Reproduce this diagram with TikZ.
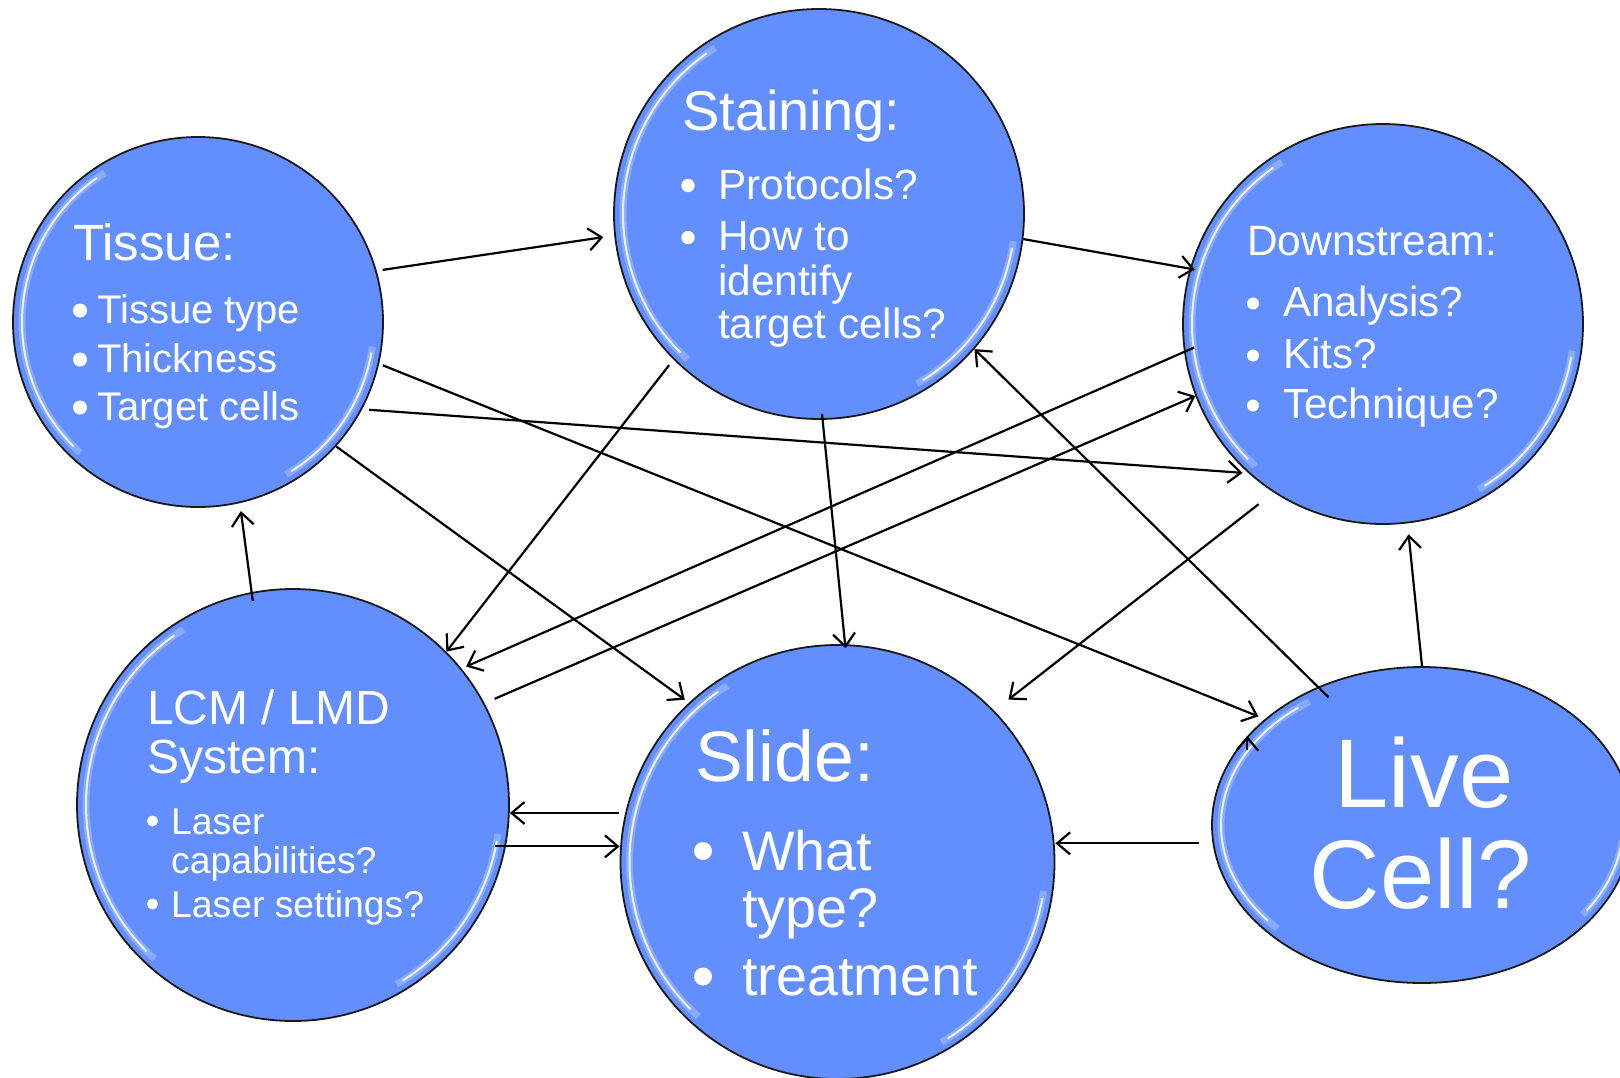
\documentclass[tikz,border=0pt]{standalone}
\usepackage{fontspec}
\setmainfont{Liberation Sans}
\usetikzlibrary{arrows.meta,shapes.geometric}
\definecolor{bub}{RGB}{98,143,253}
\newcommand\myfs[1]{\fontsize{#1}{#1}\selectfont}
\begin{document}
\begin{tikzpicture}[x=1pt,y=-1pt,
  bubble/.style={circle, draw=black!90, line width=1.8pt, fill=bub, inner sep=0pt},
  arr/.style={draw=black, line width=2.2pt, -{Straight Barb[length=13pt,width=22pt]}},
  hl/.style={draw=white, line width=2pt, opacity=.85},
  glow/.style={draw=white, line width=7pt, opacity=.25},
  lbl/.style={text=white, anchor=base west, inner sep=0pt},
  dot/.style={fill=white}]
\useasboundingbox (0,0) rectangle (1620,1077);
\fill[white] (0,0) rectangle (1620,1077);

% bubbles
\node[bubble, minimum size=370pt] (tissue) at (198,322) {};
\node[bubble, minimum size=410pt] (staining) at (819,214) {};
\node[bubble, minimum size=400pt] (down) at (1383,324) {};
\node[bubble, minimum size=432pt] (lcm) at (293,805) {};
\node[bubble, minimum size=434pt] (slide) at (837.5,862) {};
\node[bubble, ellipse, minimum width=420pt, minimum height=316pt] (live) at (1422,825) {};

% glassy highlights
\foreach \n/\r in {tissue/176, staining/196, down/191, lcm/207, slide/208}{
  \draw[glow] (\n.center) ++(122:\r pt) arc[start angle=122, end angle=228, radius=\r pt];
  \draw[hl] (\n.center) ++(125:\r pt) arc[start angle=125, end angle=225, radius=\r pt];
  \draw[glow] (\n.center) ++(-8:\r pt) arc[start angle=-8, end angle=-60, radius=\r pt];
  \draw[hl] (\n.center) ++(-10:\r pt) arc[start angle=-10, end angle=-58, radius=\r pt];
}
\draw[glow] (live.center) ++(124:201pt and 149pt) arc[start angle=124, end angle=224, x radius=201pt, y radius=149pt];
\draw[hl] (live.center) ++(128:201pt and 149pt) arc[start angle=128, end angle=220, x radius=201pt, y radius=149pt];
\draw[glow] (live.center) ++(-6:201pt and 149pt) arc[start angle=-6, end angle=-37, x radius=201pt, y radius=149pt];
\draw[hl] (live.center) ++(-8:201pt and 149pt) arc[start angle=-8, end angle=-35, x radius=201pt, y radius=149pt];

% Tissue
\node[lbl, font=\myfs{51}] (t0) at (73,260) {Tissue:};
\node[lbl, font=\myfs{40}] (t1) at (97,323) {Tissue type};
\node[lbl, font=\myfs{40}] (t2) at (97,372) {Thickness};
\node[lbl, font=\myfs{40}] (t3) at (97,420) {Target cells};
\fill[dot] (80,310.5) circle (7pt);
\fill[dot] (80,359.5) circle (7pt);
\fill[dot] (80,407.5) circle (7pt);

% Staining
\node[lbl, font=\myfs{56}] (s0) at (682,130) {Staining:};
\node[lbl, font=\myfs{42.3}] (s1) at (718,199) {Protocols?};
\node[lbl, font=\myfs{42.3}] (s2) at (718,250) {How to};
\node[lbl, font=\myfs{42.3}] (s3) at (718,295) {identify};
\node[lbl, font=\myfs{42.3}] (s4) at (718,338) {target cells?};
\fill[dot] (688,185.5) circle (6.7pt);
\fill[dot] (688,237.5) circle (6.7pt);

% Downstream
\node[lbl, font=\myfs{42.4}] (d0) at (1247,255) {Downstream:};
\node[lbl, font=\myfs{42.1}] (d1) at (1283,316) {Analysis?};
\node[lbl, font=\myfs{42.1}] (d2) at (1283,368) {Kits?};
\node[lbl, font=\myfs{42.1}] (d3) at (1283,418) {Technique?};
\fill[dot] (1253,303.5) circle (6pt);
\fill[dot] (1253,355.5) circle (6pt);
\fill[dot] (1253,405.5) circle (6pt);

% LCM
\node[lbl, font=\myfs{48}] (l0) at (147,724) {LCM / LMD};
\node[lbl, font=\myfs{48}] (l1) at (147,773) {System:};
\node[lbl, font=\myfs{37.3}] (l2) at (171,834) {Laser};
\node[lbl, font=\myfs{37.3}] (l3) at (171,873) {capabilities?};
\node[lbl, font=\myfs{37.3}] (l4) at (171,917) {Laser settings?};
\fill[dot] (152.5,821) circle (5.5pt);
\fill[dot] (152.5,904) circle (5.5pt);

% Slide
\node[lbl, font=\myfs{71.5}] (sl0) at (695,781) {Slide:};
\node[lbl, font=\myfs{55.7}] (sl1) at (742,870) {What};
\node[lbl, font=\myfs{55.7}] (sl2) at (742,927) {type?};
\node[lbl, font=\myfs{55.7}] (sl3) at (742,995) {treatment};
\fill[dot] (703,851) circle (9pt);
\fill[dot] (703,976.5) circle (9pt);

% Live Cell
\node[lbl, anchor=base, font=\myfs{97.5}] (lv0) at (1424,807) {Live};
\node[lbl, anchor=base, font=\myfs{97.5}] (lv1) at (1421,908) {Cell?};

% connectors
\draw[arr, shorten <=6pt, shorten >=11pt] (tissue.16) -- (staining.186);
\draw[arr, shorten >=-5pt] (staining.-7) -- (down.164);
\draw[arr, shorten <=4pt, shorten >=7pt] (tissue.-13) -- (live.146);
\draw[arr, shorten <=7pt, shorten >=6pt] (tissue.-28) -- (down.228);
\draw[arr, shorten >=5pt] (tissue.-42) -- (slide.133);
\draw[arr, shorten <=7pt] (staining.225) -- (lcm.45);
\draw[arr, shorten <=-6pt, shorten >=-4pt] (staining.-89) -- (slide.88);
\draw[arr, shorten <=-11pt, shorten >=5pt] (down.188) -- (lcm.39);
\draw[arr, shorten <=11pt] (lcm.28) -- (down.201);
\draw[arr, shorten <=-15pt] (live.127) -- (staining.-41);
\draw[arr, shorten <=19pt, shorten >=18pt] (down.237) -- (slide.44);
\draw[arr, shorten >=11pt] (live.90) -- (down.-83);
\draw[arr, shorten <=-9pt, shorten >=8pt] (lcm.101) -- (tissue.-77);
\draw[arr, shorten <=6pt] (slide.167) -- (slide.167 -| lcm.east);
\draw[arr, shorten <=-11pt] (lcm.-11) -- (lcm.-11 -| slide.west);
\draw[arr, shorten <=14pt] (live.185) -- (live.185 -| slide.east);
\draw[arr] ([yshift=-14pt]live.153) -- (live.153);
\end{tikzpicture}
\end{document}
